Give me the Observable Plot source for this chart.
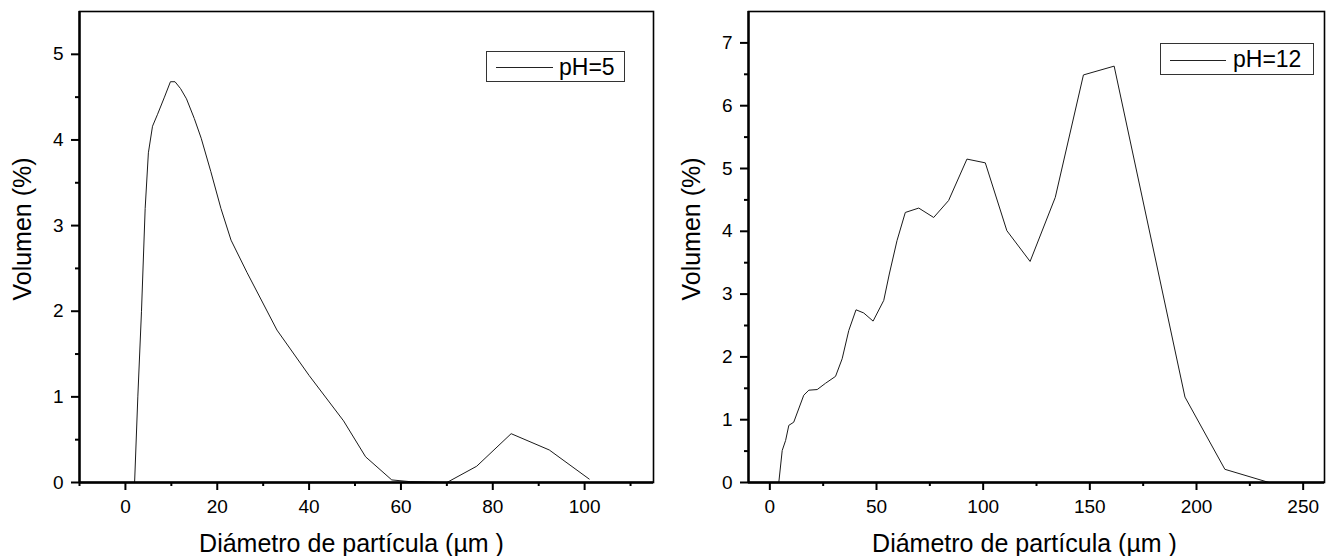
<!DOCTYPE html>
<html>
<head>
<meta charset="utf-8">
<script src="https://cdn.jsdelivr.net/npm/d3@7"></script>
<script src="https://cdn.jsdelivr.net/npm/@observablehq/plot@0.6"></script>
<style>
  html, body { margin: 0; padding: 0; background: #fff; }
  #wrap { position: relative; width: 1330px; height: 556px; overflow: hidden; background: #fff; }
  .panel { position: absolute; top: 0; }
  .legend { position: absolute; border: 1px solid #333; background: #fff; box-sizing: border-box;
            font-family: "Liberation Sans", Arial, sans-serif; font-size: 23px; color: #000; }
  .legend .ln { position: absolute; height: 0; border-top: 1px solid #222; }
  .legend .tx { position: absolute; line-height: 1; }
</style>
</head>
<body>
<div id="wrap"></div>
<script>
// ---- Data: pH = 5 ----
const diam5 = [2, 2.7, 3.5, 4.3, 5.0, 5.9, 7.0, 8.5, 9.8, 10.8, 12.0, 13.3, 15.0, 16.5, 18.6, 20.8, 23.0, 26.5, 33, 40, 47.5, 52.3, 58, 62, 70, 76.5, 84, 92.3, 101];
const vol5  = [0, 1.0, 2.0, 3.2, 3.85, 4.16, 4.3, 4.5, 4.68, 4.68, 4.6, 4.48, 4.25, 4.02, 3.63, 3.2, 2.83, 2.45, 1.78, 1.25, 0.72, 0.30, 0.03, 0.01, 0, 0.19, 0.57, 0.38, 0.04];
// ---- Data: pH = 12 ----
const diam12 = [4.2, 5.8, 7.4, 8.9, 11.2, 15.9, 18.3, 22.2, 26.1, 30.8, 33.9, 37, 40.4, 44, 48.4, 53.4, 56, 59.6, 63.5, 69.8, 76.8, 83.8, 92.4, 101, 111.1, 122, 133.8, 147, 161.4, 194.6, 213.3, 234];
const vol12  = [0, 0.51, 0.67, 0.91, 0.96, 1.39, 1.47, 1.48, 1.58, 1.69, 1.97, 2.42, 2.75, 2.70, 2.57, 2.90, 3.32, 3.85, 4.30, 4.37, 4.22, 4.49, 5.15, 5.09, 4.01, 3.52, 4.54, 6.49, 6.63, 1.36, 0.21, 0.0];
// ---- Ticks ----
const xTicks5 = [0, 20, 40, 60, 80, 100];
const xMinor5 = [-10, 10, 30, 50, 70, 90, 110];
const yTicks5 = [0, 1, 2, 3, 4, 5];
const yMinor5 = [0.5, 1.5, 2.5, 3.5, 4.5];
const xTicks12 = [0, 50, 100, 150, 200, 250];
const xMinor12 = [25, 75, 125, 175, 225];
const yTicks12 = [0, 1, 2, 3, 4, 5, 6, 7];
const yMinor12 = [0.5, 1.5, 2.5, 3.5, 4.5, 5.5, 6.5];
// ---- Text ----
const xTitle = "Diámetro de partícula (µm )";
const yTitle = "Volumen (%)";
const labels = ["pH=5", "pH=12"];

const FONT = '"Liberation Sans", Arial, sans-serif';
const fmt = d => String(d);

function panel({xs, ys, xDomain, yDomain, xT, xM, yT, yM, mL, mR, xTitleDx}) {
  const data = xs.map((d, i) => ({d, v: ys[i]}));
  return Plot.plot({
    width: 665, height: 556,
    marginLeft: mL, marginRight: mR, marginTop: 11, marginBottom: 74,
    style: {fontFamily: FONT, fontSize: "19px", background: "white", color: "black", overflow: "visible"},
    x: {domain: xDomain},
    y: {domain: yDomain},
    marks: [
      Plot.line(data, {x: "d", y: "v", stroke: "#1a1a1a", strokeWidth: 1}),
      Plot.frame({stroke: "black", strokeWidth: 1.6}),
      Plot.ruleX([xDomain[0]], {stroke: "black", strokeWidth: 2.4}),
      Plot.ruleY([yDomain[0]], {stroke: "black", strokeWidth: 2.4}),
      Plot.axisX({ticks: xT, tickSize: 8, tickPadding: 9, stroke: "black", strokeWidth: 2, strokeOpacity: 1, tickFormat: fmt, label: null, fontSize: 19}),
      Plot.axisX({ticks: xM, tickSize: 4, tickFormat: () => "", stroke: "black", strokeWidth: 2, strokeOpacity: 1, label: null}),
      Plot.axisY({ticks: yT, tickSize: 8, tickPadding: 8, stroke: "black", strokeWidth: 2, strokeOpacity: 1, tickFormat: fmt, label: null, fontSize: 19}),
      Plot.axisY({ticks: yM, tickSize: 4, tickFormat: () => "", stroke: "black", strokeWidth: 2, strokeOpacity: 1, label: null}),
      Plot.text([xTitle], {text: d => d, frameAnchor: "bottom", textAnchor: "middle", lineAnchor: "middle", dy: 61, dx: xTitleDx, fontSize: 25}),
      Plot.text([yTitle], {text: d => d, frameAnchor: "left", textAnchor: "middle", lineAnchor: "middle", rotate: -90, dx: -57, dy: -18, fontSize: 25})
    ]
  });
}

const wrap = document.getElementById("wrap");

const p1 = panel({xs: diam5, ys: vol5, xDomain: [-10, 115], yDomain: [0, 5.5],
  xT: xTicks5, xM: xMinor5, yT: yTicks5, yM: yMinor5, mL: 79, mR: 12, xTitleDx: -15});
p1.classList.add("panel"); p1.style.left = "0px";
wrap.appendChild(p1);

const p2 = panel({xs: diam12, ys: vol12, xDomain: [-10, 260], yDomain: [0, 7.5],
  xT: xTicks12, xM: xMinor12, yT: yTicks12, yM: yMinor12, mL: 83, mR: 6, xTitleDx: -12});
p2.classList.add("panel"); p2.style.left = "665px";
wrap.appendChild(p2);

function legend(label, box, lineLeft, lineW, lineTop, textLeft) {
  const div = document.createElement("div");
  div.className = "legend";
  Object.assign(div.style, {left: box[0] + "px", top: box[1] + "px", width: box[2] + "px", height: box[3] + "px"});
  const ln = document.createElement("div");
  ln.className = "ln";
  Object.assign(ln.style, {left: lineLeft + "px", width: lineW + "px", top: lineTop + "px"});
  const tx = document.createElement("div");
  tx.className = "tx";
  tx.textContent = label;
  Object.assign(tx.style, {left: textLeft + "px", top: "4px"});
  div.appendChild(ln); div.appendChild(tx);
  wrap.appendChild(div);
}
legend(labels[0], [486, 51, 139, 31], 9, 57, 15, 72);
legend(labels[1], [1160, 43, 154, 32], 9, 56, 16, 72);
</script>
</body>
</html>
